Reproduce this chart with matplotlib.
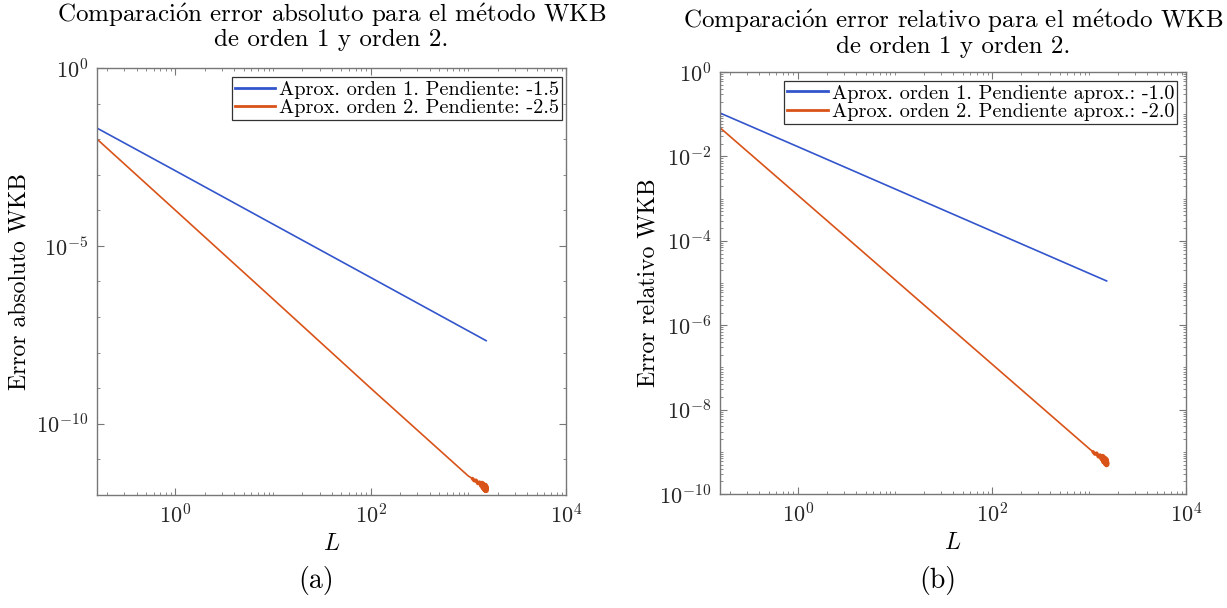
import numpy as np
import matplotlib
matplotlib.use("Agg")
import matplotlib.pyplot as plt
from matplotlib.ticker import LogLocator, NullFormatter

# ---------------- fuentes estilo LaTeX ----------------
plt.rcParams['font.family'] = ['cmr10', 'DejaVu Serif']
plt.rcParams['mathtext.fontset'] = 'cm'
plt.rcParams['axes.formatter.use_mathtext'] = True
plt.rcParams['axes.unicode_minus'] = False

# ---------------- datos ----------------
L_1 = [0.1575, 1, 10, 100, 1000, 1520]
abs_orden1 = [2.04e-2, 1.29e-3, 4.07e-5, 1.29e-6, 4.07e-8, 2.17e-8]
rel_orden1 = [1.07e-1, 1.70e-2, 1.70e-3, 1.70e-4, 1.70e-5, 1.12e-5]

L_2 = [0.1575, 1, 10, 100, 1000, 1100, 1150, 1200, 1250, 1300, 1340,
       1380, 1420, 1450, 1480, 1500, 1520, 1510]
abs_orden2 = [1.0e-2, 1.0e-4, 3.2e-7, 1.0e-9, 3.4e-12, 2.9e-12, 2.5e-12, 2.6e-12,
              2.1e-12, 2.3e-12, 1.8e-12, 2.1e-12, 1.6e-12, 1.9e-12, 1.4e-12,
              1.8e-12, 1.35e-12, 1.6e-12]
rel_orden2 = [4.8e-2, 1.2e-3, 1.2e-5, 1.2e-7, 1.2e-9, 1.0e-9, 8.8e-10, 9.3e-10,
              7.6e-10, 8.4e-10, 6.6e-10, 7.7e-10, 5.9e-10, 7.0e-10, 5.3e-10,
              6.5e-10, 5.0e-10, 6.0e-10]

etiquetas_abs = ['Aprox. orden 1. Pendiente: -1.5', 'Aprox. orden 2. Pendiente: -2.5']
etiquetas_rel = ['Aprox. orden 1. Pendiente aprox.: -1.0', 'Aprox. orden 2. Pendiente aprox.: -2.0']

titulo_abs = 'Comparaci$\\acute{\\mathrm{o}}$n error absoluto para el m$\\acute{\\mathrm{e}}$todo WKB\nde orden 1 y orden 2.'
titulo_rel = 'Comparaci$\\acute{\\mathrm{o}}$n error relativo para el m$\\acute{\\mathrm{e}}$todo WKB\nde orden 1 y orden 2.'

azul = '#3355CC'
naranja = '#D95319'
gris = '#777777'

fig = plt.figure(figsize=(12.27, 6.08), dpi=100)
ax1 = fig.add_axes([0.0791, 0.1859, 0.3822, 0.7023])
ax2 = fig.add_axes([0.5868, 0.1875, 0.3798, 0.6940])


def estilo(ax, ylim, ymajor):
    ax.set_xscale('log')
    ax.set_yscale('log')
    ax.set_xlim(0.1575, 1e4)
    ax.set_ylim(*ylim)
    ax.xaxis.set_major_locator(plt.FixedLocator([1e0, 1e2, 1e4]))
    ax.xaxis.set_minor_locator(LogLocator(base=10, subs=np.arange(1, 10), numticks=50))
    ax.xaxis.set_minor_formatter(NullFormatter())
    ax.yaxis.set_major_locator(plt.FixedLocator(ymajor))
    ax.yaxis.set_minor_formatter(NullFormatter())
    for s in ax.spines.values():
        s.set_color(gris)
        s.set_linewidth(1.0)
    ax.tick_params(which='both', direction='in', top=True, right=True,
                   colors=gris, labelcolor='#262626', labelsize=16)
    ax.tick_params(which='major', length=5, pad=6)
    ax.tick_params(which='minor', length=2.5)


def curvas(ax, y1, y2, etiquetas):
    ax.plot(L_1, y1, color=azul, lw=1.2, label=etiquetas[0])
    ax.plot(L_2, y2, color=naranja, lw=1.2, label=etiquetas[1])
    # el final de la curva de orden 2 es ruidoso y se ve más grueso
    ax.plot(L_2[5:], y2[5:], color=naranja, lw=2.5, solid_capstyle='round')
    ax.plot(L_2[11:], y2[11:], color=naranja, lw=4.0, solid_capstyle='round')


# ---------------- (a) error absoluto ----------------
curvas(ax1, abs_orden1, abs_orden2, etiquetas_abs)
estilo(ax1, (1e-12, 1e0), [1e0, 1e-5, 1e-10])
ax1.yaxis.set_minor_locator(LogLocator(base=10, subs=[1.0], numticks=50))
ax1.set_title(titulo_abs, fontsize=18, pad=16, linespacing=1.0)
ax1.set_ylabel('Error absoluto WKB', fontsize=17, labelpad=4)
ax1.set_xlabel('$L$', fontsize=17, labelpad=4)

# ---------------- (b) error relativo ----------------
curvas(ax2, rel_orden1, rel_orden2, etiquetas_rel)
estilo(ax2, (1e-10, 1e0), [1e0, 1e-2, 1e-4, 1e-6, 1e-8, 1e-10])
ax2.yaxis.set_minor_locator(LogLocator(base=10, subs=np.arange(1, 10), numticks=50))
ax2.set_title(titulo_rel, fontsize=18, pad=14, linespacing=1.0)
ax2.set_ylabel('Error relativo WKB', fontsize=17, labelpad=0)
ax2.set_xlabel('$L$', fontsize=17, labelpad=4)

for ax, xa in ((ax1, 0.992), (ax2, 0.981)):
    lineas = ax.get_lines()[:2]
    leg = ax.legend(lineas, [l.get_label() for l in lineas],
                    loc='upper right', bbox_to_anchor=(xa, 0.978), fontsize=14.6,
                    fancybox=False, framealpha=1, edgecolor='#333333',
                    handlelength=2.0, handletextpad=0.2, labelspacing=0.0,
                    borderpad=0.15, borderaxespad=0)
    leg.get_frame().set_linewidth(0.9)
    for h in leg.get_lines():
        h.set_linewidth(2.0)

fig.text(0.2575, 0.045, '(a)', fontsize=20, ha='center', va='center')
fig.text(0.7645, 0.045, '(b)', fontsize=20, ha='center', va='center')

fig.savefig('out.png', dpi=100)
